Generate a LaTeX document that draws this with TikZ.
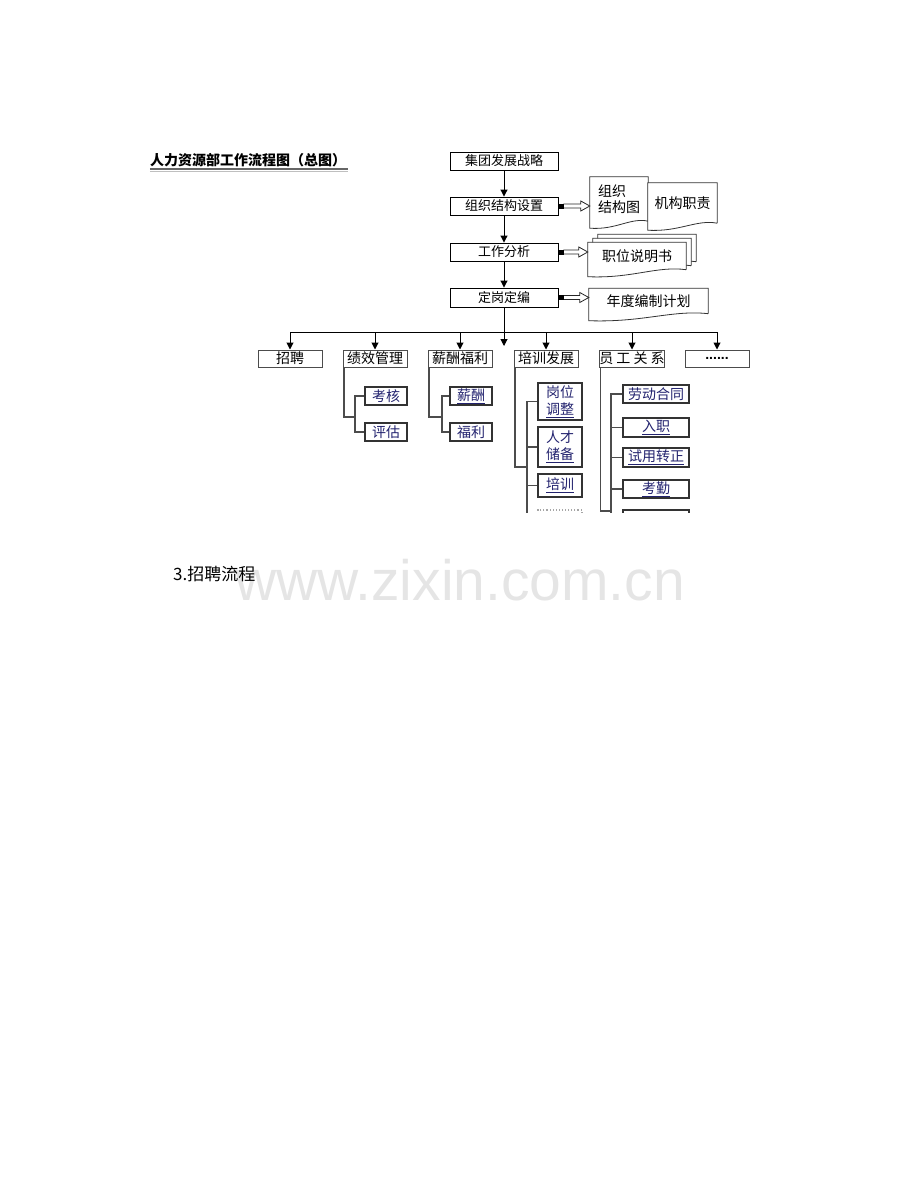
\documentclass[tikz,border=0pt]{standalone}
\usepackage{fontspec}
\setmainfont{Noto Sans CJK SC}
\newfontfamily\markfont{Liberation Sans}
\usetikzlibrary{shapes}
\usetikzlibrary{positioning}
\usetikzlibrary{arrows.meta}
\usetikzlibrary{calc}
\usetikzlibrary{backgrounds}
\definecolor{navy}{HTML}{22226E}
\tikzstyle{mainbox} = [rectangle, minimum width=108pt, minimum height=18pt, inner sep=0pt, draw=black, line width=0.9pt, font=\fontsize{13}{15}\selectfont]
\tikzstyle{catbox} = [rectangle, minimum width=64pt, minimum height=17pt, inner sep=0pt, draw=black!70, line width=1pt, font=\fontsize{14}{16}\selectfont]
\tikzstyle{subbox} = [rectangle, minimum width=42pt, minimum height=18pt, inner sep=0pt, draw=black!80, line width=1.1pt, text=navy, align=center, font=\fontsize{14}{17}\selectfont]
\tikzstyle{doc} = [rectangle, inner sep=0pt, align=center, font=\fontsize{14}{16}\selectfont]
\tikzstyle{docline} = [draw=black!80, fill=white, line width=0.8pt]
\tikzstyle{arr} = [-{Triangle[length=7pt,width=7pt]}, line width=1pt]
\tikzstyle{tree} = [draw=black!70, line width=1.1pt]
\tikzstyle{hollow} = [draw=black!85, fill=white, line width=0.8pt, line join=miter]
% document outline with a wavy bottom, #1 = offset
\newcommand{\docframe}[2][0pt,0pt]{%
  \draw[docline] ($(#2.south east)+(#1)$) -- ($(#2.north east)+(#1)$) -- ($(#2.north west)+(#1)$) -- ($(#2.south west)+(#1)+(0pt,-7pt)$)
    .. controls ($(#2.south west)!0.45!(#2.south east)+(#1)+(0pt,-9pt)$) and ($(#2.south west)!0.7!(#2.south east)+(#1)+(0pt,4pt)$) .. ($(#2.south east)+(#1)$);}
% square plus hollow double arrow from #1 to #2
\newcommand{\hollowto}[2]{%
  \draw[hollow] ([xshift=5pt,yshift=2pt]#1.east) -- ($(#1.east -| #2.west)+(-9pt,2pt)$) -- ($(#1.east -| #2.west)+(-9pt,5pt)$)
    -- (#1.east -| #2.west) -- ($(#1.east -| #2.west)+(-9pt,-5pt)$) -- ($(#1.east -| #2.west)+(-9pt,-2pt)$) -- ([xshift=5pt,yshift=-2pt]#1.east);
  \fill ([xshift=0.5pt]#1.east) ++(0pt,-2.5pt) rectangle ++(5pt,5pt);}

\begin{document}
\begin{tikzpicture}[x=1pt, y=-1pt]

    \useasboundingbox (0,0) rectangle (920,1191);

    % title
    \node[inner sep=0pt, font=\bfseries\fontsize{14}{16}\selectfont] (title) at (248,160) {人力资源部工作流程图（总图）};
    \draw[line width=2pt, black!60] ([yshift=-2pt]title.south west) -- ([yshift=-2pt,xshift=2pt]title.south east);
    \draw[line width=0.8pt, black!25] ([yshift=-4.5pt]title.south west) -- ([yshift=-4.5pt,xshift=2pt]title.south east);

    % main chain
    \node(strategy)[mainbox] at (504,161) {集团发展战略};
    \node(orgset)[mainbox] at (504,206) {组织结构设置};
    \node(jobana)[mainbox] at (504,252) {工作分析};
    \node(quota)[mainbox, minimum height=19pt] at (504,297.5) {定岗定编};
    \draw[arr] (strategy) -- (orgset);
    \draw[arr] (orgset) -- (jobana);
    \draw[arr] (jobana) -- (quota);

    % documents
    \node(orgchart)[doc, align=left, minimum width=58pt, minimum height=44pt] at (619,199) {组织\\结构图};
    \node(duty)[doc, minimum width=69pt, minimum height=40pt] at (682.5,203) {机构职责};
    \node(jobdesc)[doc, minimum width=98pt, minimum height=27pt] at (637,256) {职位说明书};
    \node(plan)[doc, minimum width=119pt, minimum height=25pt] at (648.5,301) {年度编制计划};
    \begin{scope}[on background layer]
        \docframe{orgchart}
        \docframe{duty}
        \docframe[10pt,8pt]{jobdesc}
        \docframe[5pt,4pt]{jobdesc}
        \docframe{jobdesc}
        \docframe{plan}
    \end{scope}
    \hollowto{orgset}{orgchart}
    \hollowto{jobana}{jobdesc}
    \hollowto{quota}{plan}

    % second row
    \node(recruit)[catbox] at (290,358.5) {招聘};
    \node(perf)[catbox] at (375,358.5) {绩效管理};
    \node(pay)[catbox] at (460,358.5) {薪酬福利};
    \node(train)[catbox] at (546,358.5) {培训发展};
    \node(staff)[catbox] at (632,358.5) {员 工 关 系};
    \node(more)[catbox] at (717,358.5) {\markfont\bfseries ......};
    \coordinate (bar) at (504,332);
    \coordinate (midend) at (504,346);
    \draw[arr] (quota.south) -- (midend);
    \draw[line width=1pt] (bar -| recruit.north) -- (bar -| more.north);
    \foreach \n in {recruit, perf, pay, train, staff, more}
        \draw[arr] (bar -| \n.north) -- (\n.north);

    % performance
    \node(assess)[subbox] at (386,396) {考核};
    \node(evaluate)[subbox] at (386,432) {评估};
    \coordinate (perfjoint) at (355,417);
    \draw[tree] ([xshift=1.5pt]perf.south west) |- (perfjoint);
    \draw[tree] (assess.west) -- (perfjoint |- assess.west) -- (perfjoint |- evaluate.west) -- (evaluate.west);

    % pay
    \node(salary)[subbox] at (471,396) {\underline{薪酬}};
    \node(welfare)[subbox] at (471,432) {福利};
    \coordinate (payjoint) at (442,417);
    \draw[tree] ([xshift=1.5pt]pay.south west) |- (payjoint);
    \draw[tree] (salary.west) -- (payjoint |- salary.west) -- (payjoint |- welfare.west) -- (welfare.west);

    % training and staff, cut off at the bottom
    \begin{scope}
        \clip (500,300) rectangle (760,512);
        \node(adjust)[subbox, minimum width=44pt, minimum height=37pt] at (560,401.5) {岗位\\\underline{调整}};
        \node(reserve)[subbox, minimum width=44pt, minimum height=40pt] at (560,447) {人才\\\underline{储备}};
        \node(course)[subbox, minimum width=44pt, minimum height=23pt] at (560,485.5) {\underline{培训}};
        \node(trainmore)[subbox, draw=black!35, dotted, minimum width=44pt, minimum height=30pt] at (560,525) {};
        \coordinate (trainjoint) at (527,467);
        \draw[tree] ([xshift=1.5pt]train.south west) |- (trainjoint);
        \draw[tree] (adjust.west) -- (trainjoint |- adjust.west) -- (trainjoint |- trainmore.west);
        \foreach \n in {reserve, course, trainmore}
            \draw[tree] (trainjoint |- \n.west) -- (\n.west);

        \node(contract)[subbox, minimum width=66pt] at (656,394) {劳动合同};
        \node(entry)[subbox, minimum width=66pt, minimum height=19pt] at (656,427.5) {\underline{入职}};
        \node(probation)[subbox, minimum width=66pt, minimum height=19pt] at (656,457.5) {\underline{试用转正}};
        \node(attend)[subbox, minimum width=66pt] at (656,489) {\underline{考勤}};
        \node(staffmore)[subbox, minimum width=66pt, minimum height=30pt] at (656,525) {};
        \coordinate (staffjoint) at (611,511);
        \draw[tree] ([xshift=1.5pt]staff.south west) |- (staffjoint);
        \draw[tree] (contract.west) -- (staffjoint |- contract.west) -- (staffjoint |- staffmore.west);
        \foreach \n in {entry, probation, attend, staffmore}
            \draw[tree] (staffjoint |- \n.west) -- (\n.west);
    \end{scope}

    % text below
    \node[anchor=base west, inner sep=0pt, text=black!10, font=\markfont\fontsize{57}{60}\selectfont] (mark) at (235,600) {www.zixin.com.cn};
    \node[anchor=base west, inner sep=0pt, font=\fontsize{17}{19}\selectfont] (section) at (173,580) {3.招聘流程};

\end{tikzpicture}
\end{document}
